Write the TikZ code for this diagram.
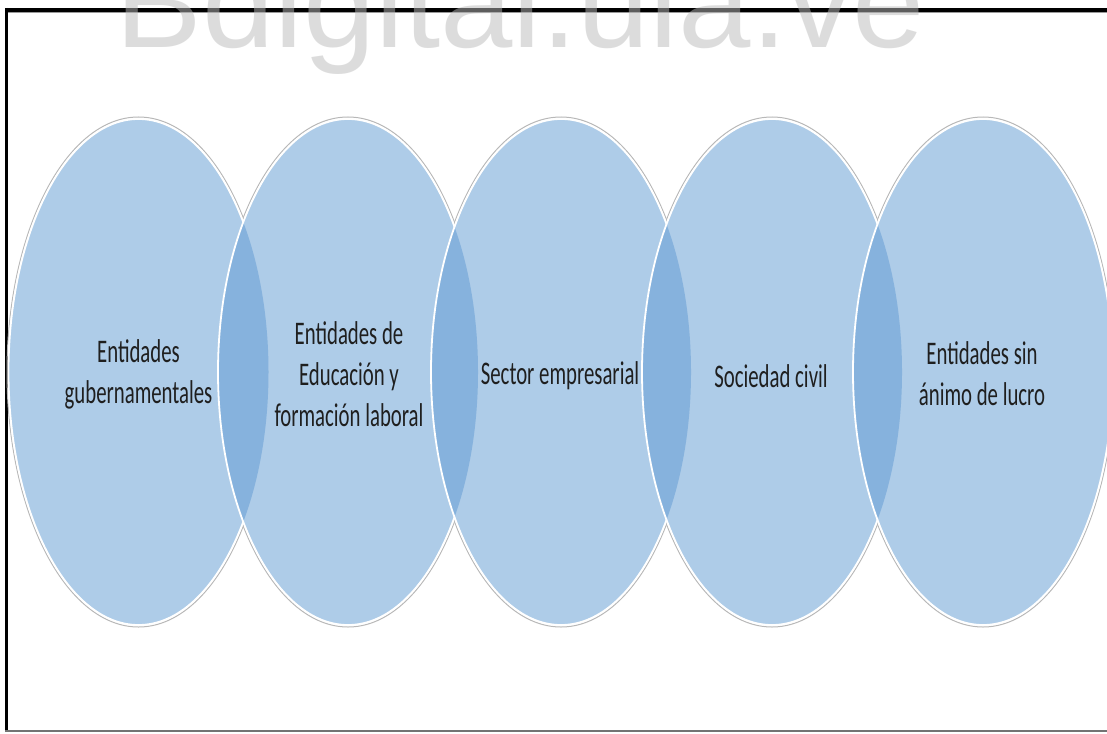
\documentclass[tikz,border=0pt]{standalone}
\usepackage{fontspec}
\setmainfont{Carlito}
\newfontfamily\narrowfont[FakeStretch=0.63]{Carlito}
\newfontfamily\wmfont{Liberation Sans}
\definecolor{vennfill}{HTML}{AECCE8}
\definecolor{lensfill}{HTML}{86B2DD}
\definecolor{wmgray}{HTML}{BBBBBB}
\begin{document}
\begin{tikzpicture}[x=1pt,y=-1pt,
  lbl/.style={align=center,font=\narrowfont\fontsize{33}{41}\selectfont,text=black!88,inner sep=0pt},
  vennshadow/.style={draw=black!28,line width=1pt},
  vennbody/.style={fill=vennfill},
  vennlens/.style={fill=lensfill},
  vennedge/.style={draw=white,line width=1.8pt},
  er/.style={x radius=130pt,y radius=253pt},
  ers/.style={x radius=131.5pt,y radius=255pt}]
\useasboundingbox (0,0) rectangle (1107,733);
\fill[white] (0,0) rectangle (1107,733);
% frame
\draw[black,line width=4pt] (5,10) -- (1107,10);
\draw[black!40,line width=1pt] (8,12.5) -- (1107,12.5);
\draw[black,line width=3pt] (6.5,8) -- (6.5,731);
\draw[black!55,line width=2pt] (5,731) -- (1107,731);
% shadows
\foreach \cx in {138.5,348,561,772,983}
  \draw[vennshadow] (\cx,372) ellipse [ers];
% ellipse 1
\fill[vennbody] (138.5,372) ellipse [er];
\draw[vennedge] (138.5,372) ellipse [er];
% ellipses 2..5 with lenses
\foreach \p/\c in {138.5/348,348/561,561/772,772/983}{
  \fill[vennbody] (\c,372) ellipse [er];
  \begin{scope}
    \clip (\p,372) ellipse [er];
    \fill[vennlens] (\c,372) ellipse [er];
  \end{scope}
  \draw[vennedge] (\c,372) ellipse [er];
}
% labels
\node[lbl] (t1) at (138.5,374) {Entidades\\gubernamentales};
\node[lbl] (t2) at (349,374) {Entidades de\\Educación y\\formación laboral};
\node[lbl] (t3) at (560,376) {Sector empresarial};
\node[lbl] (t4) at (771,376) {Sociedad civil};
\node[lbl] (t5) at (982,374) {Entidades sin\\ánimo de lucro};
% watermark
\node[font=\wmfont\fontsize{130}{130}\selectfont,text=wmgray,text opacity=0.5,anchor=base,inner sep=0pt] (wm) at (520,48) {Bdigital.ula.ve};
\end{tikzpicture}
\end{document}
